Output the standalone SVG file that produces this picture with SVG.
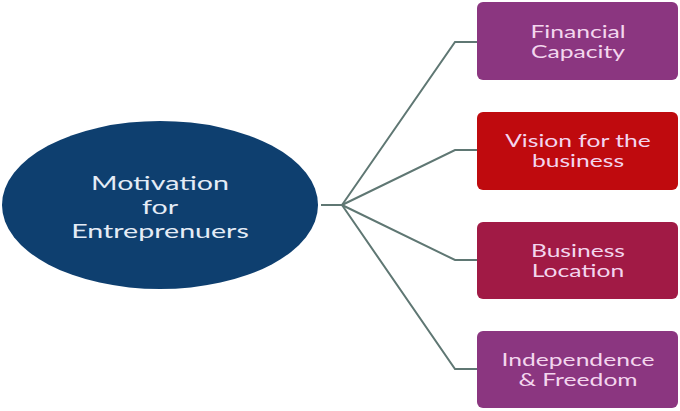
<svg xmlns="http://www.w3.org/2000/svg" width="680" height="411" viewBox="0 0 680 411">
<style>
.box{stroke:none}
.t{font-family:Lato,"Open Sans","Liberation Sans",sans-serif;text-anchor:middle;fill:#f3d6ee;font-size:17px}
.tc{font-family:Lato,"Open Sans","Liberation Sans",sans-serif;text-anchor:middle;fill:#e4ecf6;font-size:20px}
.c{fill:none;stroke:#5f7773;stroke-width:2}
</style>
<rect width="680" height="411" fill="#ffffff"/>
<g id="connectors">
<path class="c" d="M321 205 H342"/>
<path class="c" d="M342 205 L455 42 H477"/>
<path class="c" d="M342 205 L455 150 H477"/>
<path class="c" d="M342 205 L455 260 H477"/>
<path class="c" d="M342 205 L455 369 H477"/>
</g>
<g id="center">
<ellipse cx="160" cy="205" rx="158" ry="84" fill="#0e3f6f"/>
<g transform="translate(160 0) scale(1.43 1)">
<text class="tc" x="0" y="190">Motivation</text>
<text class="tc" x="0" y="214">for</text>
<text class="tc" x="0" y="238">Entreprenuers</text>
</g>
</g>
<g id="financial">
<rect class="box" x="477" y="2" width="201" height="78" rx="6" fill="#8b3680"/>
<g transform="translate(578 0) scale(1.45 1)">
<text class="t" x="0" y="38">Financial</text>
<text class="t" x="0" y="58">Capacity</text>
</g>
</g>
<g id="vision">
<rect class="box" x="477" y="112" width="201" height="78" rx="6" fill="#bf0a0e"/>
<g transform="translate(578 0) scale(1.45 1)">
<text class="t" x="0" y="147">Vision for the</text>
<text class="t" x="0" y="167">business</text>
</g>
</g>
<g id="location">
<rect class="box" x="477" y="222" width="201" height="77" rx="6" fill="#a11a45"/>
<g transform="translate(578 0) scale(1.45 1)">
<text class="t" x="0" y="257">Business</text>
<text class="t" x="0" y="277">Location</text>
</g>
</g>
<g id="independence">
<rect class="box" x="477" y="331" width="201" height="77" rx="6" fill="#8b3680"/>
<g transform="translate(578 0) scale(1.45 1)">
<text class="t" x="0" y="366">Independence</text>
<text class="t" x="0" y="386">&amp; Freedom</text>
</g>
</g>
</svg>
